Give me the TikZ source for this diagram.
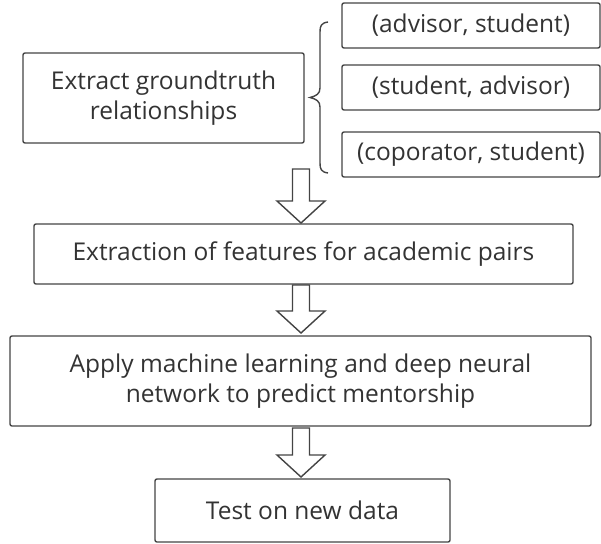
\documentclass[tikz,border=0pt]{standalone}
\usepackage{fontspec}
\setmainfont{Open Sans}
\definecolor{linegray}{HTML}{444444}
\definecolor{textgray}{HTML}{333333}

% hollow block arrow pointing down: centre x, top y, tip y
\newcommand{\hollowdown}[3]{%
  \draw[blockarrow] (#1-8.5,#2) -- (#1+8.5,#2) -- (#1+8.5,#3-22) -- (#1+24,#3-22)
    -- (#1,#3) -- (#1-24,#3-22) -- (#1-8.5,#3-22) -- cycle;}

\begin{document}
\begin{tikzpicture}[x=1pt,y=-1pt,
  box/.style={draw=linegray, line width=1.4pt, rounded corners=2pt, text=textgray,
    align=center, inner sep=0pt, font=\fontsize{24.5}{30}\selectfont},
  blockarrow/.style={draw=linegray, line width=1.4pt, fill=white, line join=miter},
  bracestyle/.style={draw=linegray, line width=1.4pt}]
\useasboundingbox (0,0) rectangle (601,543);

\node[box, minimum width=281, minimum height=90] (extract) at (163.5,98)
  {Extract groundtruth\\relationships};

\node[box, minimum width=258, minimum height=45] (pairA) at (471,25.5) {(advisor, student)};
\node[box, minimum width=258, minimum height=45] (pairB) at (471,87.5) {(student, advisor)};
\node[box, minimum width=258, minimum height=45] (pairC) at (471,154.5) {(coporator, student)};

\node[box, minimum width=539, minimum height=60] (features) at (303.5,254)
  {Extraction of features for academic pairs};
\node[box, minimum width=581, minimum height=90] (learn) at (300.5,381)
  {Apply machine learning and deep neural\\network to predict mentorship};
\node[box, minimum width=295, minimum height=63] (test) at (302.5,510.5)
  {Test on new data};

% curly brace grouping the relationship pairs
\draw[bracestyle] (328,22) .. controls (321,23) and (320,26) .. (320,32) -- (320,88)
  .. controls (320,94) and (316,96) .. (310,97.5)
  .. controls (316,99) and (320,101) .. (320,107) -- (320,163)
  .. controls (320,169) and (321,172) .. (328,173);

% flow arrows
\hollowdown{301}{169}{223}
\hollowdown{301}{285}{333}
\hollowdown{301}{428}{477}
\end{tikzpicture}
\end{document}
